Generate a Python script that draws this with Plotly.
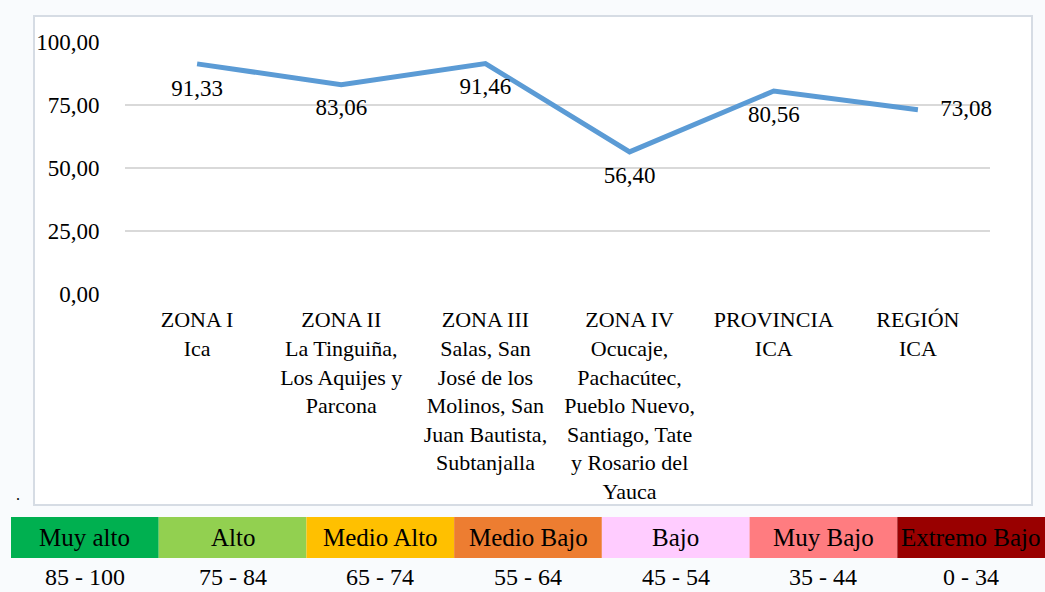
import plotly.graph_objects as go

categories = [
    "ZONA I<br>Ica",
    "ZONA II<br>La Tinguiña,<br>Los Aquijes y<br>Parcona",
    "ZONA III<br>Salas, San<br>José de los<br>Molinos, San<br>Juan Bautista,<br>Subtanjalla",
    "ZONA IV<br>Ocucaje,<br>Pachacútec,<br>Pueblo Nuevo,<br>Santiago, Tate<br>y Rosario del<br>Yauca",
    "PROVINCIA<br>ICA",
    "REGIÓN<br>ICA",
]
values = [91.33, 83.06, 91.46, 56.40, 80.56, 73.08]
label_positions = ["bottom center"] * 5 + ["middle right"]

levels = ["Muy alto", "Alto", "Medio Alto", "Medio Bajo", "Bajo", "Muy Bajo", "Extremo Bajo"]
level_ranges = ["85 - 100", "75 - 84", "65 - 74", "55 - 64", "45 - 54", "35 - 44", "0 - 34"]
level_colors = ["#00b050", "#92d050", "#ffc000", "#ed7d31", "#ffccff", "#ff7c80", "#990000"]

FONT = "Liberation Serif, Times New Roman, serif"
W, H = 1045, 592

def px_x(x):
    return x / W

def px_y(y):
    return 1 - y / H

fig = go.Figure()

fig.add_trace(go.Scatter(
    x=categories, y=values,
    mode="lines+markers+text",
    line=dict(color="#5b9bd5", width=5),
    marker=dict(size=[22, 20, 20, 20, 20, 34], color="#5b9bd5", opacity=0),
    text=values, texttemplate="%{y:.2f}",
    textposition=label_positions,
    textfont=dict(family=FONT, size=23, color="black"),
    cliponaxis=False,
    hoverinfo="skip", showlegend=False,
    xaxis="x", yaxis="y",
))

fig.add_trace(go.Bar(
    x=levels, y=[1] * len(levels), base=0, width=1,
    marker=dict(color=level_colors, line=dict(width=0)),
    hoverinfo="skip", showlegend=False,
    xaxis="x2", yaxis="y2",
))

annotations = []
for lv, rg in zip(levels, level_ranges):
    annotations.append(dict(x=lv, y=0.5, xref="x2", yref="y2", text=lv, showarrow=False,
                            font=dict(family=FONT, size=25, color="black")))
    annotations.append(dict(x=lv, y=-0.46, xref="x2", yref="y2", text=rg, showarrow=False,
                            font=dict(family=FONT, size=24, color="black")))
annotations.append(dict(x=px_x(14), y=px_y(505), xref="paper", yref="paper", text=".",
                        showarrow=False, font=dict(family=FONT, size=16, color="black")))

fig.update_layout(
    width=W, height=H, autosize=False,
    margin=dict(l=0, r=0, t=0, b=0, pad=0),
    paper_bgcolor="#f9fbfd", plot_bgcolor="rgba(0,0,0,0)",
    separators=",.",
    font=dict(family=FONT, size=22, color="black"),
    xaxis=dict(domain=[px_x(125), px_x(990)], range=[-0.5, 5.5], type="category",
               showgrid=False, showline=False, zeroline=False, ticks="outside", ticklen=0,
               automargin=False,
               tickfont=dict(family=FONT, size=22, color="black"), ticklabelstandoff=6),
    yaxis=dict(domain=[px_y(294), px_y(42)], range=[0, 100], dtick=25, tickformat=".2f",
               showgrid=True, gridcolor="#d9d9d9", gridwidth=1.5, zeroline=False, showline=False,
               ticks="outside", ticklen=0, ticklabelstandoff=20, automargin=False,
               tickfont=dict(family=FONT, size=23, color="black")),
    xaxis2=dict(domain=[px_x(11), 1], range=[-0.5, 6.5], type="category", visible=False,
                automargin=False),
    yaxis2=dict(domain=[0, px_y(517)], range=[-34 / 41, 1], visible=False, automargin=False),
    shapes=[dict(type="rect", xref="paper", yref="paper",
                 x0=px_x(34), x1=px_x(1032), y0=px_y(505), y1=px_y(16),
                 line=dict(color="#d6dce4", width=2), fillcolor="white", layer="below")],
    annotations=annotations,
)

fig.write_html("out.html", config={"displayModeBar": False},
               post_script="document.body.style.margin='0';document.body.style.overflow='hidden';")
